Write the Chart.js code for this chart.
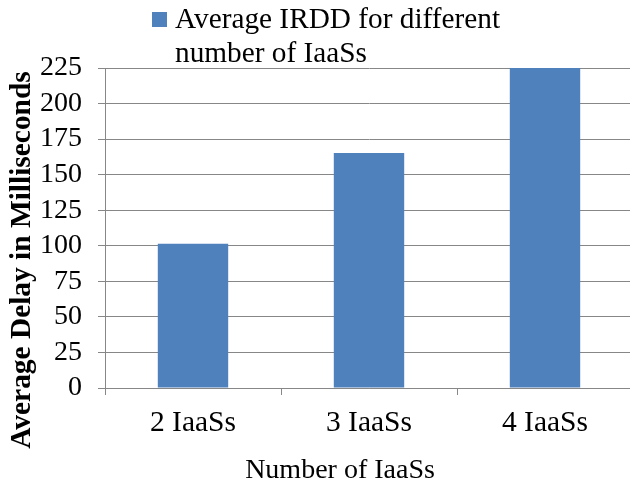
<!DOCTYPE html>
<html>
<head>
<meta charset="utf-8">
<title>Average IRDD for different number of IaaSs</title>
<script src="https://cdn.jsdelivr.net/npm/chart.js@4/dist/chart.umd.min.js"></script>
<style>
    html, body { margin: 0; padding: 0; background: #fff; overflow: hidden; }
    #wrap { width: 634px; height: 489px; }
</style>
</head>
<body>
<div id="wrap"><canvas id="irddChart"></canvas></div>
<script>
// Chart data
const categories = ['2 IaaSs', '3 IaaSs', '4 IaaSs'];
const avgDelay = [101.5, 165.3, 225];
const seriesLabel = ['Average IRDD for different', 'number of IaaSs'];
const yTitle = 'Average Delay in Milliseconds';
const xTitle = 'Number of IaaSs';

const FONT = "'Liberation Serif', 'Times New Roman', serif";
const GRID = '#878787';
const BAR = '#4f81bd';

// Draws the legend and axis titles where the original puts them
const decorations = {
    id: 'decorations',
    afterDraw(chart) {
        const ctx = chart.ctx;
        ctx.save();
        ctx.fillStyle = BAR;
        ctx.fillRect(152, 12, 15, 15);

        ctx.fillStyle = '#000';
        ctx.font = '29.3px ' + FONT;
        ctx.textAlign = 'left';
        ctx.textBaseline = 'alphabetic';
        ctx.fillText(seriesLabel[0], 175, 28);
        ctx.fillText(seriesLabel[1], 175, 62);

        ctx.font = '28px ' + FONT;
        ctx.textAlign = 'center';
        ctx.textBaseline = 'middle';
        ctx.fillText(xTitle, 340, 471);

        ctx.translate(22, 260);
        ctx.rotate(-Math.PI / 2);
        ctx.font = 'bold 29.4px ' + FONT;
        ctx.fillText(yTitle, 0, 0);
        ctx.restore();
    }
};

new Chart(document.getElementById('irddChart'), {
    type: 'bar',
    data: {
        labels: categories,
        datasets: [{
            label: seriesLabel.join(' '),
            data: avgDelay,
            backgroundColor: BAR,
            borderWidth: 0,
            barPercentage: 0.4,
            categoryPercentage: 1
        }]
    },
    options: {
        responsive: true,
        maintainAspectRatio: false,
        animation: false,
        layout: {
            padding: { top: 68, right: 1, left: 0, bottom: 0 }
        },
        plugins: {
            legend: { display: false },
            tooltip: { enabled: false }
        },
        scales: {
            y: {
                min: 0,
                max: 225,
                afterFit: function(scale) { scale.width = 105; },
                ticks: {
                    stepSize: 25,
                    autoSkip: false,
                    color: '#000',
                    padding: 16,
                    font: { family: FONT, size: 28 }
                },
                grid: {
                    color: GRID,
                    lineWidth: 1,
                    tickLength: 7
                },
                border: { color: GRID, width: 1 }
            },
            x: {
                afterFit: function(scale) { scale.height = 101; },
                ticks: {
                    color: '#000',
                    padding: 11,
                    font: { family: FONT, size: 29.5 }
                },
                grid: {
                    color: GRID,
                    drawOnChartArea: false,
                    tickLength: 7
                },
                border: { color: GRID, width: 1 }
            }
        }
    },
    plugins: [decorations]
});
</script>
</body>
</html>
